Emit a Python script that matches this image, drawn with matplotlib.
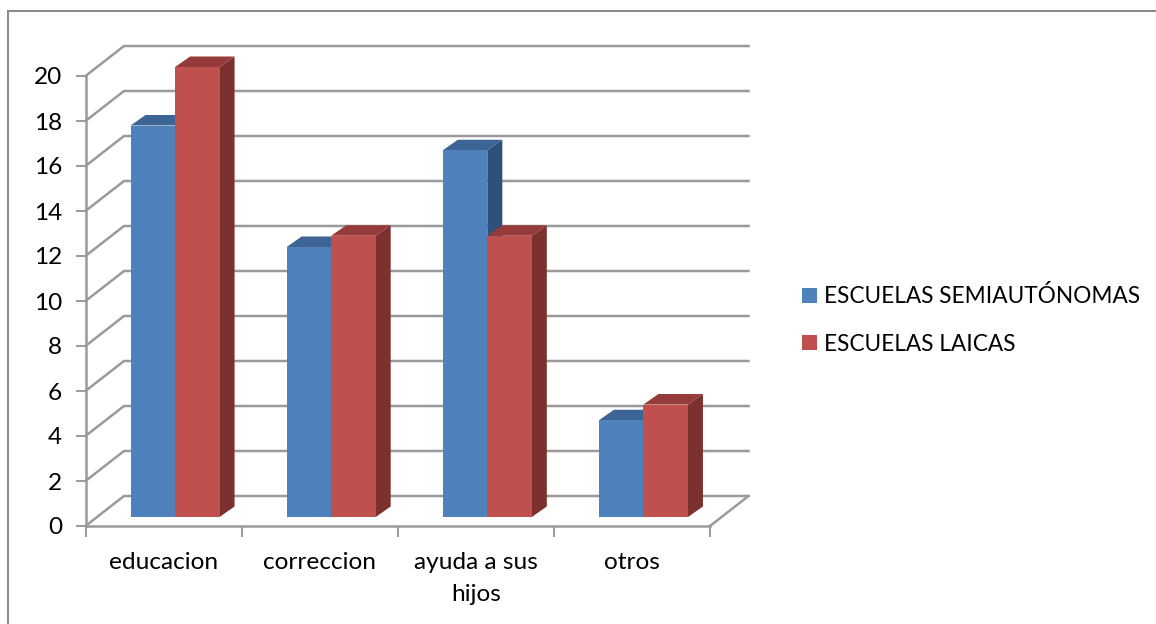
import matplotlib
matplotlib.use("Agg")
import matplotlib.pyplot as plt
from matplotlib.patches import Polygon, Rectangle
from matplotlib.lines import Line2D

categories = ["educacion", "correccion", "ayuda a sus\nhijos", "otros"]
series_names = ["ESCUELAS SEMIAUTÓNOMAS", "ESCUELAS LAICAS"]
semiautonomas = [17.4, 12.0, 16.3, 4.3]
laicas = [20.0, 12.5, 12.5, 5.0]
y_ticks = list(range(0, 21, 2))

W, H = 1156, 624
L, R, T, B = 85.5, 710, 76, 526
BLUE, BLUE_TOP = "#4F81BD", "#3C6494"
RED, RED_TOP, RED_SIDE = "#C0504D", "#953B39", "#7D312F"
BLUE_SIDE = "#2F5179"
GREY = "#9A9A9A"
FONT = "Lato"

fig = plt.figure(figsize=(W / 100, H / 100), dpi=100, facecolor="white")
ax = fig.add_axes([L / W, 1 - B / H, (R - L) / W, (B - T) / H])
ax.set_xlim(0, 4)
ax.set_ylim(0, 20)
ax.patch.set_visible(False)

ux = (R - L) / 4      # pixels per category
uy = (B - T) / 20     # pixels per value unit
back_x, back_y = 38.5 / ux, 30 / uy
off_x, off_y = 11.5 / ux, 9 / uy
dep_x, dep_y = 15 / ux, 10.5 / uy
bar_w = 44.5 / ux
gap = (1 - 2 * bar_w) / 2

# back wall gridlines and floor
for v in y_ticks:
    ax.plot([0, back_x, 4 + back_x], [v, v + back_y, v + back_y], color=GREY,
            lw=1.8, clip_on=False, zorder=1, solid_joinstyle="miter")
ax.plot([4, 4 + back_x], [0, back_y], color=GREY, lw=1.8, clip_on=False, zorder=1)


def bar(x0, v, front, top, side, z):
    x1 = x0 + bar_w
    base = off_y
    t = off_y + v
    ax.add_patch(Polygon([(x1, base), (x1 + dep_x, base + dep_y), (x1 + dep_x, t + dep_y), (x1, t)],
                         fc=side, ec="none", clip_on=False, zorder=z))
    ax.add_patch(Polygon([(x0, t), (x0 + dep_x, t + dep_y), (x1 + dep_x, t + dep_y), (x1, t)],
                         fc=top, ec="none", clip_on=False, zorder=z))
    ax.add_patch(Rectangle((x0, base), bar_w, v, fc=front, ec="none", clip_on=False, zorder=z + 0.1))


for i in range(len(categories)):
    x0 = i + gap + off_x
    bar(x0, semiautonomas[i], BLUE, BLUE_TOP, BLUE_SIDE, 3 + i)
    bar(x0 + bar_w, laicas[i], RED, RED_TOP, RED_SIDE, 3.3 + i)

for s in ("top", "right"):
    ax.spines[s].set_visible(False)
for s in ("left", "bottom"):
    ax.spines[s].set_color(GREY)
    ax.spines[s].set_linewidth(1.8)
    ax.spines[s].set_zorder(2)

ax.set_yticks(y_ticks)
ax.set_xticks(range(5))
ax.set_xticklabels([])
ax.set_xticks([i + 0.5 for i in range(4)], minor=True)
ax.set_xticklabels(categories, minor=True, fontsize=17.6, family=FONT,
                   linespacing=1.6, va="top")
ax.tick_params(axis="y", length=7, width=1.4, color=GREY, labelsize=17.6, pad=10)
ax.tick_params(axis="x", which="major", length=8, width=1.4, color=GREY)
ax.tick_params(axis="x", which="minor", length=0, pad=19)
for t in ax.get_yticklabels():
    t.set_family(FONT)
    t.set_color("black")

# legend
handles = [Rectangle((0, 0), 1, 1, fc=BLUE), Rectangle((0, 0), 1, 1, fc=RED)]
fig.legend(handles, series_names, loc="center left", bbox_to_anchor=(802 / W, 1 - 320 / H),
           frameon=False, prop={"family": FONT, "size": 16.3}, handlelength=0.68, handleheight=0.68,
           handletextpad=0.3, labelspacing=1.15, borderpad=0, borderaxespad=0)

# chart border
fig.add_artist(Line2D([8 / W, 8 / W, 1], [0, 1 - 10.5 / H, 1 - 10.5 / H], color="#8C8C8C",
                      lw=1.5, solid_joinstyle="miter"))

fig.savefig("out.png", dpi=100)
